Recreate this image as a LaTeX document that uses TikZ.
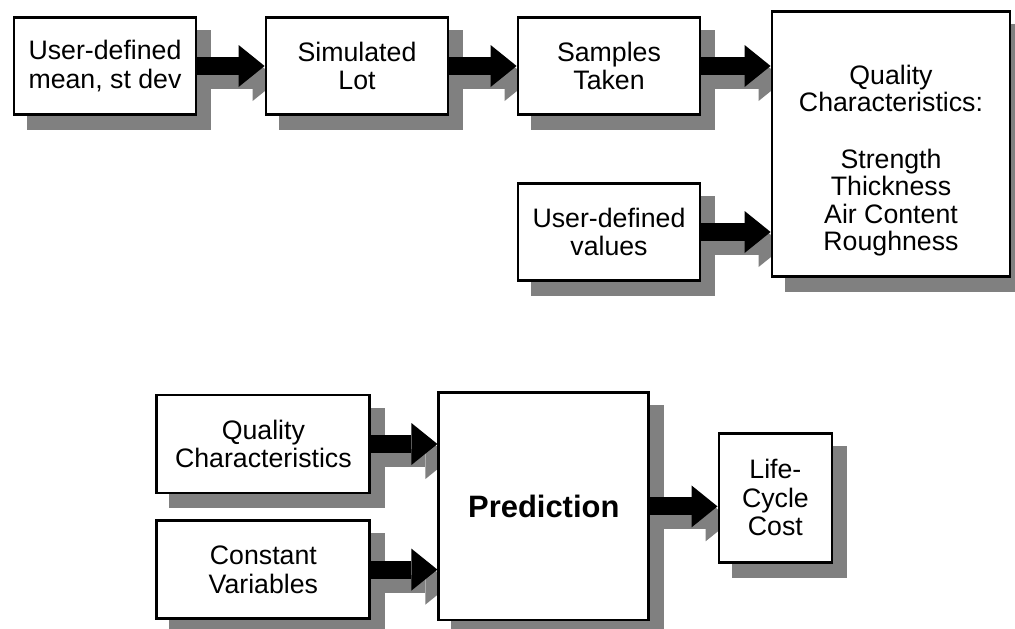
\documentclass[tikz,border=0pt]{standalone}
\usepackage{fontspec}
\setmainfont{Liberation Sans}
\usetikzlibrary{arrows.meta, positioning, backgrounds}
\pgfdeclarelayer{connect}
\pgfsetlayers{background,connect,main}
\tikzstyle{block} = [rectangle, draw, fill=white, line width=2pt, align=center,
    font=\fontsize{19}{20.5}\selectfont, minimum width=4.55cm, minimum height=2.42cm]
\tikzstyle{boxtext} = [align=center, font=\fontsize{19}{19.5}\selectfont]
\tikzstyle{dropshade} = [fill=black!50]
\tikzstyle{line} = [draw, line width=0.45cm, -{Triangle[length=0.65cm, width=1.05cm, line width=0pt]}]
\tikzstyle{shadowline} = [line, draw=black!50]

\begin{document}
\begin{tikzpicture}[node distance = 6.3cm]
  \useasboundingbox (-2.625,1.65) rectangle (22.75,-14.05);
  % Place nodes
  % Simulation
  \node[block] (mean) {User-defined\\mean, st dev};
  \node[block, right of=mean] (lot) {Simulated\\Lot};
  \node[block, right of=lot] (samples) {Samples\\Taken};
  \node[block, below of=samples, node distance=4.15cm] (values) {User-defined\\values};
  \node[block, minimum width=5.95cm, minimum height=6.625cm,
    label={[name=qualtext, boxtext, yshift=-0.4cm]center:{Quality\\Characteristics:\\[21pt]Strength\\Thickness\\Air Content\\Roughness}}]
    (quality) at (19.65,-1.96) {};
  % Prediction
  \node[block, minimum width=5.325cm, minimum height=2.45cm] (qualin) at (3.96,-9.45) {Quality\\Characteristics};
  \node[block, minimum width=5.325cm, minimum height=2.45cm, below of=qualin, node distance=3.14cm] (constant) {Constant\\Variables};
  \node[block, minimum width=5.25cm, minimum height=5.675cm, font=\fontsize{22}{24}\selectfont\bfseries] (predict) at (10.97,-11.01) {Prediction};
  \node[block, minimum width=2.825cm, minimum height=3.225cm, right of=predict, node distance=5.79cm, yshift=0.22cm] (cost) {Life-\\Cycle\\Cost};

  % Shadows
  \begin{scope}[on background layer]
  \foreach \n in {mean, lot, samples, values, quality, qualin, constant, predict, cost}
    \fill[dropshade] ([xshift=0.35cm, yshift=-0.35cm]\n.south west) rectangle ([xshift=0.35cm, yshift=-0.35cm]\n.north east);
  \end{scope}

  % Draw edges
  \begin{pgfonlayer}{connect}
  \foreach \from/\to in {mean/lot, lot/samples, samples/quality, values/quality, qualin/predict, constant/predict, predict/cost} {
    \coordinate (tip) at (\from.east -| \to.west);
    \path [shadowline] ([xshift=0.35cm, yshift=-0.35cm]\from.east) -- ([xshift=0.35cm, yshift=-0.35cm]tip);
    \path [line] (\from.east) -- (tip);
  }
  \end{pgfonlayer}
\end{tikzpicture}
\end{document}
